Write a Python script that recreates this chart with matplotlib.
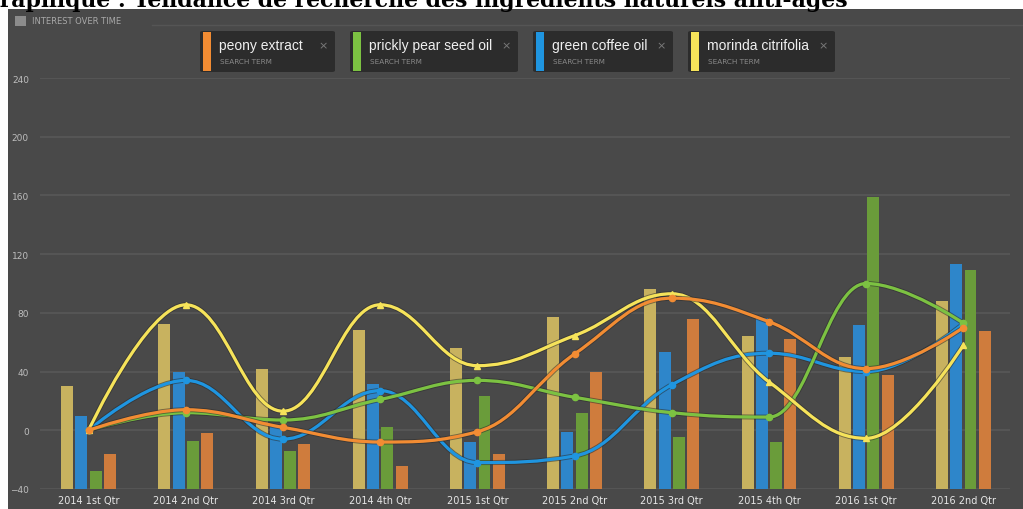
import numpy as np
import matplotlib.pyplot as plt
from matplotlib.path import Path
from matplotlib.patches import PathPatch, Rectangle, FancyBboxPatch
import matplotlib.patheffects as pe

quarters = ['2014 1st Qtr', '2014 2nd Qtr', '2014 3rd Qtr', '2014 4th Qtr',
            '2015 1st Qtr', '2015 2nd Qtr', '2015 3rd Qtr', '2015 4th Qtr',
            '2016 1st Qtr', '2016 2nd Qtr']
terms = ['peony extract', 'prickly pear seed oil', 'green coffee oil', 'morinda citrifolia']

# interest over time (curves)
peony = [0, 14, 2, -8, -1, 52, 90, 74, 42, 70]
prickly = [0, 12, 7, 21, 34, 22.5, 12, 9, 100, 73]
coffee = [0, 34, -6, 27, -22, -17.5, 31, 52.5, 40, 72.5]
morinda = [0, 85.5, 13, 85.5, 44, 64.5, 93, 33, -5.5, 58]

# bars (top values, drawn up from the axis floor)
morinda_bar = [30, 72.5, 42, 68, 56, 77.5, 96, 64, 50, 88]
coffee_bar = [10, 40, 2, 31.5, -8, -1, 53.5, 76.5, 72, 113.5]
prickly_bar = [-28, -7.5, -14, 2, 23.5, 11.5, -4.5, -8, 159, 109.5]
peony_bar = [-16, -2, -9.5, -24.5, -16, 40, 76, 62, 37.5, 67.7]

yticks = [-40, 0, 40, 80, 120, 160, 200, 240]
floor = -40

W, H = 1023, 510
def fx(x):
    return x / W
def fy(y):
    return 1 - y / H


def spline_path(xs, ys, smoothing=1.5):
    # highcharts-style spline: bezier through every point, no false extremes
    n = len(xs)
    left = [None] * n
    right = [None] * n
    for i in range(n):
        x, y = xs[i], ys[i]
        if i == 0 or i == n - 1:
            left[i] = right[i] = (x, y)
            continue
        lx, ly = xs[i - 1], ys[i - 1]
        nx, ny = xs[i + 1], ys[i + 1]
        d = smoothing + 1
        lcx, lcy = (smoothing * x + lx) / d, (smoothing * y + ly) / d
        rcx, rcy = (smoothing * x + nx) / d, (smoothing * y + ny) / d
        corr = (rcy - lcy) * (rcx - x) / (rcx - lcx) + y - rcy
        lcy += corr
        rcy += corr
        if lcy > ly and lcy > y:
            lcy = max(ly, y); rcy = 2 * y - lcy
        elif lcy < ly and lcy < y:
            lcy = min(ly, y); rcy = 2 * y - lcy
        if rcy > ny and rcy > y:
            rcy = max(ny, y); lcy = 2 * y - rcy
        elif rcy < ny and rcy < y:
            rcy = min(ny, y); lcy = 2 * y - rcy
        left[i] = (lcx, lcy)
        right[i] = (rcx, rcy)
    verts = [(xs[0], ys[0])]
    codes = [Path.MOVETO]
    for i in range(1, n):
        verts += [right[i - 1], left[i], (xs[i], ys[i])]
        codes += [Path.CURVE4] * 3
    return Path(verts, codes)


fig = plt.figure(figsize=(W / 100, H / 100), dpi=100, facecolor='white')

# dark panel
fig.patches.append(Rectangle((fx(8), 0), 1 - fx(8), fy(10), transform=fig.transFigure,
                             facecolor='#494949', edgecolor='none', zorder=-2))

# title, cut by the top of the picture (as in the source)
fig.text(fx(848), fy(7), 'Graphique : Tendance de recherche des ingrédients naturels anti-âges',
         ha='right', va='baseline', fontsize=15.8, fontweight='bold',
         family='DejaVu Serif', color='black')

# header
fig.patches.append(Rectangle((fx(15), fy(27)), fx(11), 10 / H, transform=fig.transFigure,
                             facecolor='#8c8c8c', edgecolor='none'))
fig.text(fx(32), fy(22), 'INTEREST OVER TIME', ha='left', va='center', fontsize=6,
         color='#a8a8a8', family='DejaVu Sans')
fig.lines.append(plt.Line2D([fx(152), 1], [fy(26), fy(26)], transform=fig.transFigure,
                            color='#555555', lw=1))

ax = fig.add_axes([fx(40), fy(490), (1010 - 40) / W, (490 - 79) / H])
ax.set_zorder(2)
ax.set_facecolor('none')
x = np.arange(len(quarters))
ax.set_xlim(-0.5, 9.48)
ax.set_ylim(-40, 240)
for s in ax.spines.values():
    s.set_visible(False)
ax.set_yticks(yticks)
ax.yaxis.grid(True, color='#575757', lw=1.3)
ax.set_axisbelow(True)
ax.tick_params(axis='y', length=0, pad=8, labelsize=6.5, labelcolor='#bdbdbd')
ax.set_xticks(x)
ax.set_xticklabels(quarters)
ax.tick_params(axis='x', length=0, pad=4, labelsize=7, labelcolor='#e6e6e6')

bw = 0.123
step = 0.147
bars = [(morinda_bar, '#c8b25f'), (coffee_bar, '#2e86ca'),
        (prickly_bar, '#6a9c3a'), (peony_bar, '#cf7c3d')]
for k, (vals, col) in enumerate(bars):
    tops = np.array(vals)
    ax.bar(x + (k - 1.5) * step, tops - floor, bottom=floor, width=bw,
           color=col, zorder=2)

lines = [(coffee, '#1f95e0', 'o', 3), (prickly, '#7cc242', 'o', 4),
         (peony, '#f28c33', 'o', 6), (morinda, '#f6e35a', '^', 5)]
for vals, col, mk, z in lines:
    p = spline_path(list(x), vals)
    ax.add_patch(PathPatch(p, facecolor='none', edgecolor=col, lw=2.3, zorder=z,
                           capstyle='round', joinstyle='round',
                           path_effects=[pe.Stroke(linewidth=3.6, foreground='#2a2a2a', alpha=0.55),
                                         pe.Normal()]))
    ax.plot(x, vals, linestyle='none', marker=mk, ms=4.5, color=col,
            markeredgecolor=col, zorder=z + 0.5)

# legend chips
chips = [(200, 335, '#f28c33'), (350, 518, '#7cc242'), (533, 673, '#1f95e0'), (688, 835, '#f6e35a')]
for (x0, x1, col), term in zip(chips, terms):
    fig.patches.append(FancyBboxPatch((fx(x0), fy(73)), fx(x1 - x0), 41 / H,
                                      boxstyle='round,pad=0,rounding_size=0.003',
                                      transform=fig.transFigure, facecolor='#2c2c2c',
                                      edgecolor='none', zorder=1))
    fig.patches.append(Rectangle((fx(x0 + 3), fy(72)), fx(8), 39 / H,
                                 transform=fig.transFigure, facecolor=col,
                                 edgecolor='none', zorder=2))
    fig.text(fx(x0 + 19), fy(46), term, ha='left', va='center', fontsize=10,
             color='#f0f0f0', family='Liberation Sans', zorder=3)
    fig.text(fx(x0 + 20), fy(62), 'SEARCH TERM', ha='left', va='center', fontsize=5.2,
             color='#8a8a8a', family='DejaVu Sans', zorder=3)
    fig.text(fx(x1 - 12), fy(46), '×', ha='center', va='center', fontsize=8,
             color='#7a7a7a', family='DejaVu Sans', zorder=3)

fig.savefig('out.png', dpi=100, facecolor='white')
